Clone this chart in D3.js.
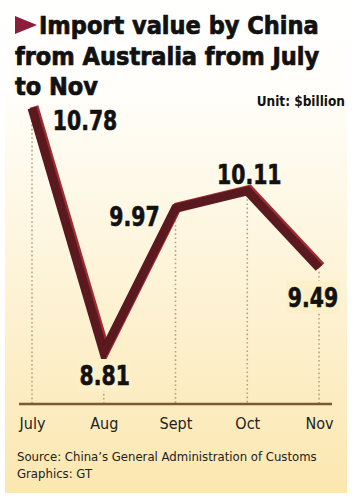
<!DOCTYPE html>
<html>
<head>
<meta charset="UTF-8">
<title></title>
<script src="https://cdn.jsdelivr.net/npm/d3@7/dist/d3.min.js"></script>
<style>
*{margin:0;padding:0;}
body{background:#fff;}
#mychart{width:354px;height:500px;}
text{font-family:"DejaVu Sans Condensed","DejaVu Sans",sans-serif;}
</style>
</head>
<body>
<div id="mychart"></div>
<script>
var months = ["July", "Aug", "Sept", "Oct", "Nov"];
var values = [10.78, 8.81, 9.97, 10.11, 9.49];
var titleLines = ["Import value by China", "from Australia from July", "to Nov"];
var unitText = "Unit: $billion";
var sourceLines = ["Source: China\u2019s General Administration of Customs", "Graphics: GT"];

// label offsets from each point (dx, dy of label centre)
var labelPos = [[53, 12], [1, 23], [-41, 8], [2, -17], [-6, 29]];

var W = 354, H = 500;
var svg = d3.select("#mychart").append("svg").attr("width", W).attr("height", H);

var defs = svg.append("defs");
var grad = defs.append("linearGradient").attr("id", "bg")
	.attr("x1", 0).attr("y1", 0).attr("x2", 0).attr("y2", 1);
grad.append("stop").attr("offset", "0").attr("stop-color", "#ffffff");
grad.append("stop").attr("offset", "0.18").attr("stop-color", "#fffefa");
grad.append("stop").attr("offset", "1").attr("stop-color", "#fbe7b0");

svg.append("rect").attr("x", 5).attr("y", 0).attr("width", 342).attr("height", 493)
	.attr("fill", "url(#bg)");

// title
svg.append("path").attr("d", "M15,16 L37,25 L15,34 Z").attr("fill", "#8c1c3c");
svg.selectAll(".title").data(titleLines).enter().append("text")
	.attr("class", "title")
	.attr("x", function(d, i){ return i == 0 ? 39 : 15; })
	.attr("y", function(d, i){ return 34 + i * 30.5; })
	.attr("font-size", 25).attr("font-weight", "bold").attr("fill", "#111")
	.attr("stroke", "#111").attr("stroke-width", 0.7)
	.text(function(d){ return d; });

svg.append("text").attr("x", 345).attr("y", 106).attr("text-anchor", "end")
	.attr("font-size", 13.5).attr("font-weight", "bold").attr("fill", "#111")
	.text(unitText);

var x = d3.scalePoint().domain(months).range([32, 319]);
var y = d3.scaleLinear().domain([8.81, 10.78]).range([352, 108]);
var axisY = 404;

var data = months.map(function(m, i){ return {month: m, value: values[i], i: i}; });

// dotted drop lines
svg.selectAll(".drop").data(data).enter().append("line")
	.attr("class", "drop")
	.attr("x1", function(d){ return x(d.month); })
	.attr("x2", function(d){ return x(d.month); })
	.attr("y1", function(d){ return y(d.value) + 4; })
	.attr("y2", axisY)
	.attr("stroke", "#b3a386").attr("stroke-width", 1.6)
	.attr("stroke-dasharray", "1.6,2.6");

// axis
var xAxis = d3.axisBottom(x).tickSize(0).tickPadding(0);
var gx = svg.append("g").attr("transform", "translate(0," + axisY + ")").call(xAxis);
gx.select(".domain").remove();
gx.attr("font-size", null).attr("font-family", null);
gx.selectAll("text").attr("y", 25).attr("dy", 0)
	.style("font-family", "'DejaVu Sans Condensed','DejaVu Sans',sans-serif")
	.style("font-size", "16px").attr("fill", "#222");
svg.append("line").attr("x1", 19).attr("x2", 332).attr("y1", axisY).attr("y2", axisY)
	.attr("stroke", "#7a5a2e").attr("stroke-width", 2.5);

// ribbon line
var line = d3.line().x(function(d){ return x(d.month); }).y(function(d){ return y(d.value); });
svg.append("path").datum(data).attr("d", line)
	.attr("transform", "translate(2,-1.5)")
	.attr("fill", "none").attr("stroke", "#9e2b32").attr("stroke-width", 9)
	.attr("stroke-linejoin", "miter");
svg.append("path").datum(data).attr("d", line)
	.attr("fill", "none").attr("stroke", "#5a191e").attr("stroke-width", 9)
	.attr("stroke-linejoin", "miter");

// value labels
var lab = svg.selectAll(".val").data(data).enter().append("g").attr("class", "val")
	.attr("transform", function(d){
		return "translate(" + (x(d.month) + labelPos[d.i][0]) + "," + (y(d.value) + labelPos[d.i][1]) + ")";
	});
lab.filter(function(d){ return d.i == 1 || d.i == 4; }).append("rect")
	.attr("x", -27).attr("y", -16).attr("width", 54).attr("height", 32)
	.attr("fill", "#fcf0c9");
lab.append("text").attr("text-anchor", "middle").attr("dy", "0.36em")
	.attr("transform", "scale(0.84,1)")
	.attr("font-size", 27).attr("font-weight", "bold").attr("fill", "#111")
	.attr("stroke", "#111").attr("stroke-width", 0.6)
	.text(function(d){ return d.value.toFixed(2); });

// source
svg.selectAll(".src").data(sourceLines).enter().append("text")
	.attr("class", "src").attr("x", 17).attr("y", function(d, i){ return 461 + i * 17; })
	.attr("font-size", 13).attr("fill", "#222")
	.text(function(d){ return d; });
</script>
</body>
</html>
